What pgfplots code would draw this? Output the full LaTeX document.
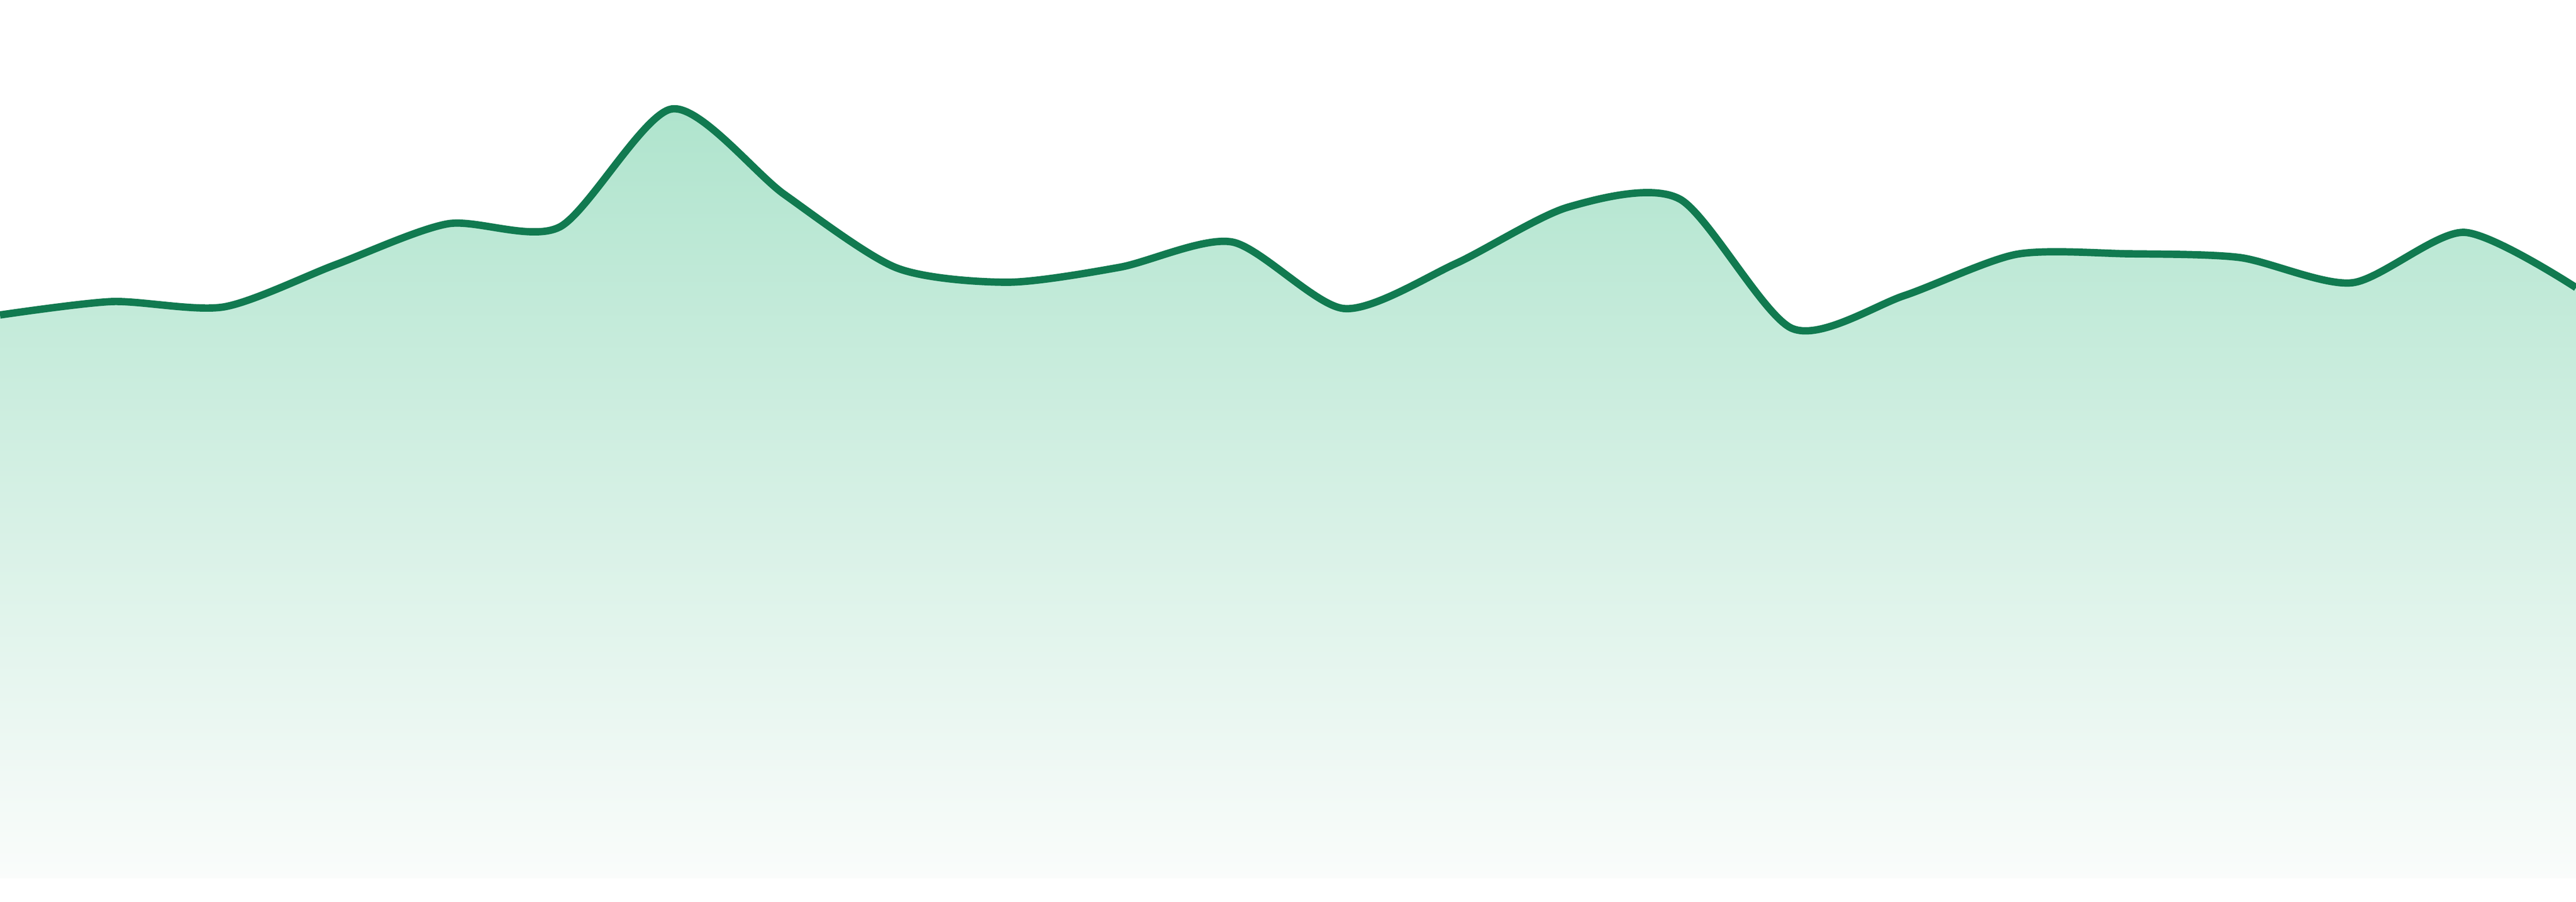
\documentclass[border=0pt]{standalone}
\usepackage{pgfplots}
\usepackage{pgfplotstable}
\pgfplotsset{compat=1.18}

\definecolor{lineC}{RGB}{17,122,80}
\definecolor{fillTop}{RGB}{175,228,205}
\definecolor{fillBot}{RGB}{250,252,251}

% x: position across the chart, y: height above the baseline (picture pixels)
\pgfplotstableread{
x     y
0     1050
209   1075
417   1065
626   1144
835   1220
1043  1214
1252  1434
1461  1275
1670  1138
1878  1111
2087  1139
2296  1186
2504  1062
2713  1146
2922  1251
3130  1266
3339  1025
3548  1086
3757  1163
3965  1164
4174  1157
4383  1110
4591  1204
4800  1101
}\series

\begin{document}
\begin{tikzpicture}
\begin{axis}[
    width=16cm, height=5.4567cm, scale only axis,
    xmin=0, xmax=4800, ymin=0, ymax=1637,
    hide axis,
    clip=true, clip bounding box=upper bound,
]
\addplot[draw=none, top color=fillTop, bottom color=fillBot, smooth, tension=0.45]
    table[x=x, y=y] {\series} \closedcycle;
\addplot[lineC, line width=1.3pt, smooth, tension=0.45]
    table[x=x, y=y] {\series};
\end{axis}
% white strip under the baseline, as in the reference
\path ([yshift=-0.1433cm]current axis.south west) rectangle (current axis.north east);
\end{tikzpicture}
\end{document}
